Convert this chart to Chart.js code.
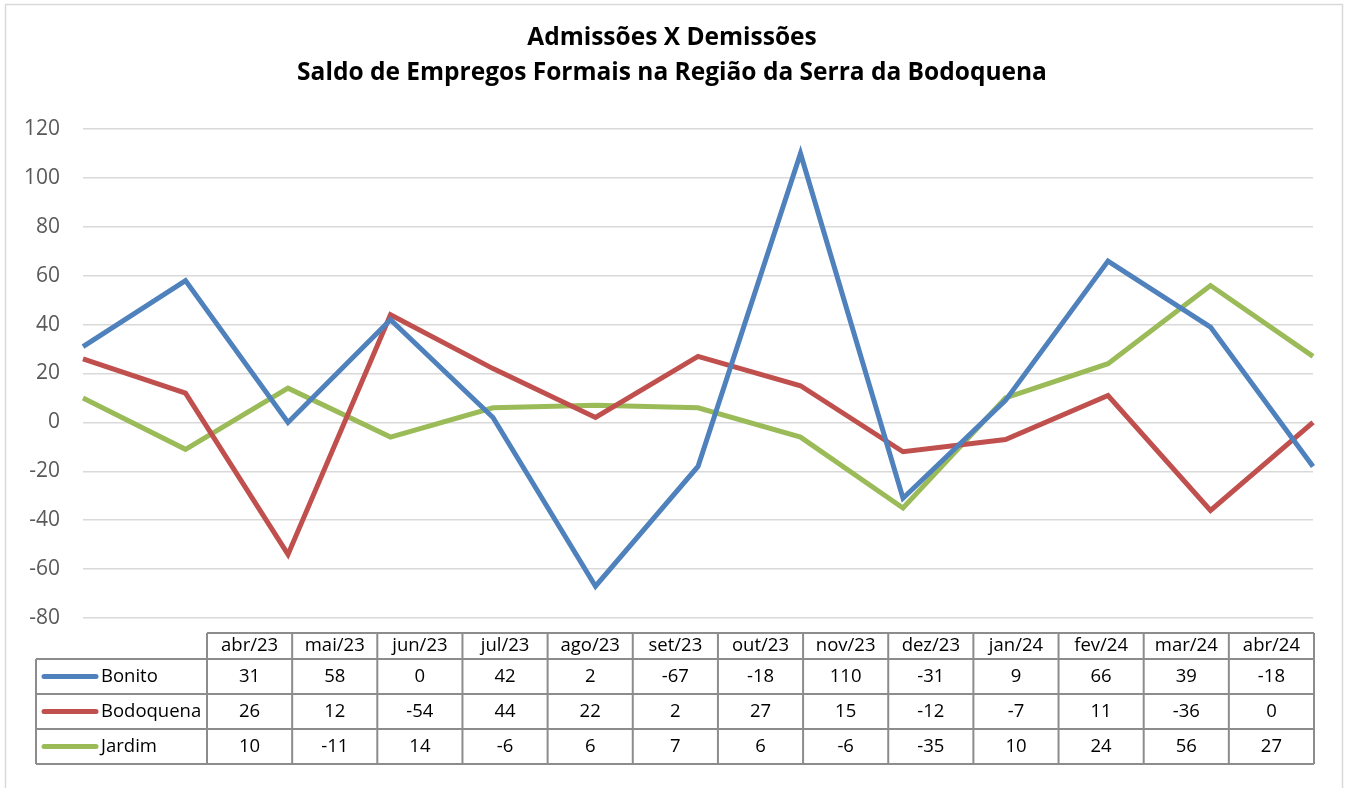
<!DOCTYPE html>
<html>
<head>
<meta charset="utf-8">
<script src="https://cdn.jsdelivr.net/npm/chart.js@4/dist/chart.umd.min.js"></script>
<style>
  html, body { margin: 0; padding: 0; background: #fff; }
  canvas { display: block; }
</style>
</head>
<body>
<canvas id="saldo" width="1349" height="788"></canvas>
<script>
// Categories (months) and series values
const categories = ['abr/23', 'mai/23', 'jun/23', 'jul/23', 'ago/23', 'set/23', 'out/23',
  'nov/23', 'dez/23', 'jan/24', 'fev/24', 'mar/24', 'abr/24']
const bonito = [31, 58, 0, 42, 2, -67, -18, 110, -31, 9, 66, 39, -18]
const bodoquena = [26, 12, -54, 44, 22, 2, 27, 15, -12, -7, 11, -36, 0]
const jardim = [10, -11, 14, -6, 6, 7, 6, -6, -35, 10, 24, 56, 27]
const seriesNames = ['Bonito', 'Bodoquena', 'Jardim']
const titleLines = ['Admissões X Demissões', 'Saldo de Empregos Formais na Região da Serra da Bodoquena']
const yMin = -80
const yMax = 120
const yStep = 20

const FONT = '"Open Sans", sans-serif'

// Outer frame + title
const framePlugin = {
  id: 'frame',
  beforeDraw (chart) {
    const ctx = chart.ctx
    ctx.save()
    ctx.fillStyle = '#fff'
    ctx.fillRect(0, 0, chart.width, chart.height)
    ctx.strokeStyle = '#d9d9d9'
    ctx.lineWidth = 1.5
    ctx.strokeRect(5.5, 4.5, 1337, 800)
    ctx.fillStyle = '#000'
    ctx.textAlign = 'center'
    ctx.textBaseline = 'middle'
    ctx.font = 'bold 24.5px ' + FONT
    ctx.fillText(titleLines[0], 672, 38)
    ctx.fillText(titleLines[1], 672, 73)
    ctx.restore()
  }
}

// Data table under the plot
const tablePlugin = {
  id: 'dataTable',
  afterDraw (chart) {
    const ctx = chart.ctx
    const left = 36
    const colStart = 207
    const colEnd = 1314
    const colW = (colEnd - colStart) / categories.length
    const headTop = 633
    const rowTops = [659, 694, 729, 764]

    ctx.save()
    ctx.strokeStyle = '#8c8c8c'
    ctx.lineWidth = 2

    ctx.beginPath()
    ctx.moveTo(colStart, headTop)
    ctx.lineTo(colEnd, headTop)
    for (let i = 0; i <= categories.length; i++) {
      const x = colStart + i * colW
      ctx.moveTo(x, headTop)
      ctx.lineTo(x, rowTops[rowTops.length - 1])
    }
    rowTops.forEach(y => {
      ctx.moveTo(left, y)
      ctx.lineTo(colEnd, y)
    })
    ctx.moveTo(left, rowTops[0])
    ctx.lineTo(left, rowTops[rowTops.length - 1])
    ctx.stroke()

    ctx.fillStyle = '#000'
    ctx.font = '18.5px ' + FONT
    ctx.textAlign = 'center'
    ctx.textBaseline = 'middle'
    categories.forEach((c, i) => {
      ctx.fillText(c, colStart + (i + 0.5) * colW, (headTop + rowTops[0]) / 2)
    })

    chart.data.datasets.forEach((ds, r) => {
      const yMid = (rowTops[r] + rowTops[r + 1]) / 2
      // legend key
      ctx.strokeStyle = ds.borderColor
      ctx.lineWidth = 5
      ctx.lineCap = 'round'
      ctx.beginPath()
      ctx.moveTo(44, yMid)
      ctx.lineTo(96, yMid)
      ctx.stroke()
      ctx.textAlign = 'left'
      ctx.fillText(ds.label, 101, yMid)
      ctx.textAlign = 'center'
      ds.data.forEach((v, i) => {
        ctx.fillText(String(v), colStart + (i + 0.5) * colW, yMid)
      })
    })
    ctx.restore()
  }
}

const ctx = document.getElementById('saldo')

new Chart(ctx, {
  type: 'line',
  data: {
    labels: categories,
    datasets: [
      { label: seriesNames[0], data: bonito, borderColor: '#4f81bd' },
      { label: seriesNames[1], data: bodoquena, borderColor: '#c0504d' },
      { label: seriesNames[2], data: jardim, borderColor: '#9bbb59' }
    ]
  },
  options: {
    responsive: false,
    animation: false,
    layout: { padding: { left: 0, right: 36, top: 129, bottom: 170 } },
    elements: {
      line: { borderWidth: 5, tension: 0, fill: false },
      point: { radius: 0 }
    },
    plugins: {
      legend: { display: false },
      title: { display: false },
      tooltip: { enabled: false }
    },
    scales: {
      x: { display: false, offset: false },
      y: {
        min: yMin,
        max: yMax,
        afterFit (scale) { scale.width = 83 },
        ticks: {
          stepSize: yStep,
          color: '#595959',
          padding: 23,
          font: { family: FONT, size: 21 }
        },
        grid: { color: '#d9d9d9', lineWidth: 1.5, drawTicks: false },
        border: { display: false }
      }
    }
  },
  plugins: [framePlugin, tablePlugin]
})
</script>
</body>
</html>
